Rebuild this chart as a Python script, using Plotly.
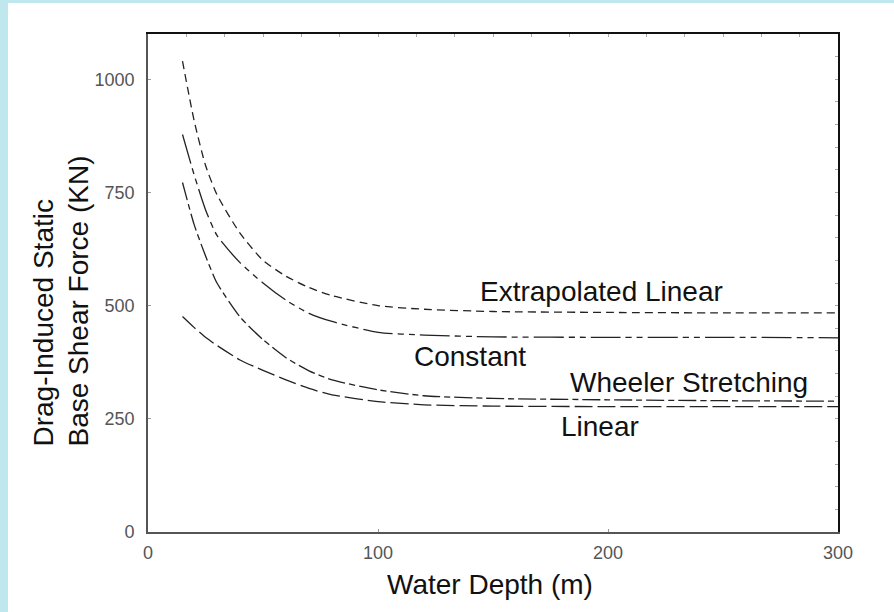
import plotly.graph_objects as go

# ---- data ----
depth = [15, 20, 25, 30, 40, 50, 60, 70, 80, 100, 120, 150, 200, 250, 300]
extrapolated_linear = [1040, 910, 810, 745, 660, 600, 565, 540, 522, 500, 492, 487, 485, 484, 484]
constant = [878, 790, 712, 655, 595, 550, 512, 483, 465, 441, 435, 431, 430, 430, 429]
wheeler = [772, 680, 610, 550, 475, 425, 385, 356, 336, 314, 301, 295, 292, 290, 289]
linear = [476, 452, 430, 412, 380, 357, 336, 317, 303, 288, 281, 278, 277, 277, 277]

x_ticks = [0, 100, 200, 300]
y_ticks = [0, 250, 500, 750, 1000]
top_minor = [100 / 6 * k for k in range(1, 18)]
right_minor = list(range(50, 1100, 50))

labels = [
    ("Extrapolated Linear", 197, 531),
    ("Constant", 140, 387),
    ("Wheeler Stretching", 235, 330),
    ("Linear", 196.5, 234),
]

FONT = "Liberation Sans, Arial, sans-serif"
W, H = 894, 612
ML, MR, MT, MB = 148, 56, 34, 80
PW, PH = W - ML - MR, H - MT - MB


def px2paper_x(px):
    return (px - ML) / PW


def px2paper_y(py):
    return (H - MB - py) / PH


fig = go.Figure()
styles = [
    (extrapolated_linear, "8px,5px"),
    (constant, "30px,5px,6px,5px,6px,5px"),
    (wheeler, "18px,4px,6px,4px"),
    (linear, "18px,5px"),
]
names = ["Extrapolated Linear", "Constant", "Wheeler Stretching", "Linear"]
for (vals, dash), nm in zip(styles, names):
    fig.add_trace(go.Scatter(x=depth, y=vals, mode="lines", name=nm,
                             line=dict(color="#222222", width=1.3, dash=dash, shape="spline", smoothing=0.6)))

# invisible trace to activate overlay axes
fig.add_trace(go.Scatter(x=[0], y=[0], xaxis="x2", yaxis="y2", mode="markers",
                         marker=dict(opacity=0), showlegend=False, hoverinfo="skip"))

for text, xv, yv in labels:
    fig.add_annotation(x=xv, y=yv, text=text, showarrow=False,
                       font=dict(family=FONT, size=28, color="#111111"),
                       xanchor="center", yanchor="middle")

# axis titles as annotations
fig.add_annotation(xref="paper", yref="paper", x=px2paper_x(490), y=px2paper_y(584),
                   text="Water Depth (m)", showarrow=False,
                   font=dict(family=FONT, size=28, color="#111111"),
                   xanchor="center", yanchor="middle")
fig.add_annotation(xref="paper", yref="paper", x=px2paper_x(43), y=px2paper_y(449),
                   text="Drag-Induced Static", showarrow=False, textangle=-90,
                   font=dict(family=FONT, size=28, color="#111111"),
                   xanchor="center", yanchor="bottom")
fig.add_annotation(xref="paper", yref="paper", x=px2paper_x(78), y=px2paper_y(449),
                   text="Base Shear Force (KN)", showarrow=False, textangle=-90,
                   font=dict(family=FONT, size=28, color="#111111"),
                   xanchor="center", yanchor="bottom")

# cyan frame bands
cyan = "#bfe8ee"
fig.add_shape(type="rect", xref="paper", yref="paper",
              x0=px2paper_x(0), x1=px2paper_x(8), y0=px2paper_y(H), y1=px2paper_y(0),
              fillcolor=cyan, line=dict(width=0), layer="below")
fig.add_shape(type="rect", xref="paper", yref="paper",
              x0=px2paper_x(0), x1=px2paper_x(W), y0=px2paper_y(3), y1=px2paper_y(0),
              fillcolor=cyan, line=dict(width=0), layer="below")

tickfont = dict(family=FONT, size=18, color="#555555")
fig.update_layout(
    width=W, height=H,
    margin=dict(l=ML, r=MR, t=MT, b=MB, pad=0),
    paper_bgcolor="white", plot_bgcolor="white",
    showlegend=False,
    xaxis=dict(range=[0, 300], tickvals=x_ticks, ticks="inside", ticklen=3, tickcolor="#999999",
               showgrid=False, zeroline=False, showline=True, linecolor="#555555", linewidth=1.6,
               tickfont=tickfont, ticklabelstandoff=4),
    yaxis=dict(range=[0, 1100], tickvals=y_ticks, ticks="inside", ticklen=3, tickcolor="#999999",
               showgrid=False, zeroline=False, showline=True, linecolor="#555555", linewidth=1.6,
               tickfont=tickfont, ticklabelstandoff=8),
    xaxis2=dict(range=[0, 300], overlaying="x", side="top", tickvals=top_minor, ticks="inside",
                ticklen=3, tickcolor="#aaaaaa", showticklabels=False, showgrid=False, zeroline=False,
                showline=True, linecolor="#111111", linewidth=1.6),
    yaxis2=dict(range=[0, 1100], overlaying="y", side="right", tickvals=right_minor, ticks="inside",
                ticklen=3, tickcolor="#aaaaaa", showticklabels=False, showgrid=False, zeroline=False,
                showline=True, linecolor="#111111", linewidth=1.6),
)

fig.write_html("out.html", config={"displayModeBar": False},
               post_script="document.body.style.margin='0';document.body.style.overflow='hidden';")
